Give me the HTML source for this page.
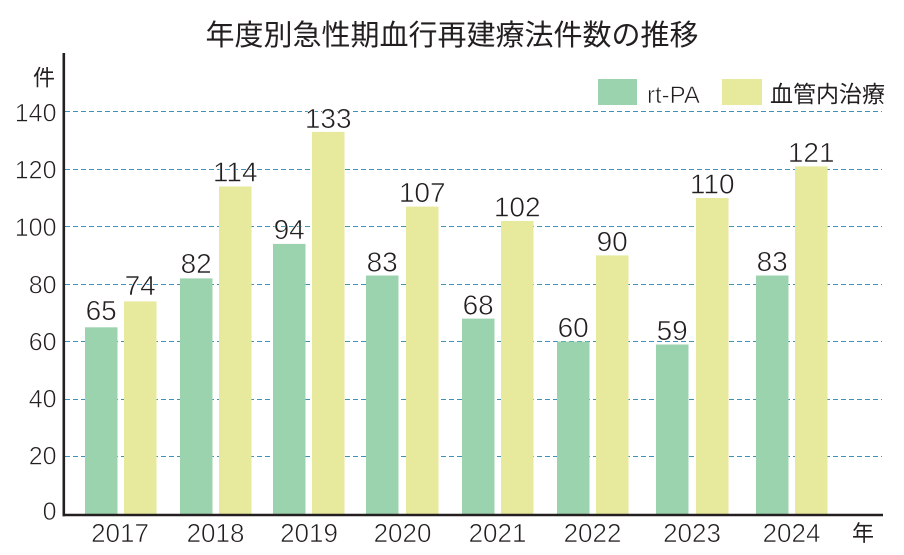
<!DOCTYPE html>
<html>
<head>
<meta charset="utf-8">
<style>
  html,body{margin:0;padding:0;background:#fff;}
  body{width:904px;height:555px;overflow:hidden;}
  svg{display:block;}
  .num{font-family:"Liberation Sans","Noto Sans CJK JP",sans-serif;fill:#231f20;stroke:#ffffff;stroke-width:0.6px;}
  .jp{font-family:"Liberation Sans","Noto Sans CJK JP",sans-serif;fill:#231f20;}
</style>
</head>
<body>
<svg width="904" height="555" viewBox="0 0 904 555" xmlns="http://www.w3.org/2000/svg">
  <rect x="0" y="0" width="904" height="555" fill="#ffffff"/>

  <!-- Title -->
  <text class="jp" x="452" y="45" font-size="29" text-anchor="middle">年度別急性期血行再建療法件数の推移</text>

  <!-- gridlines -->
  <g stroke="#3f92b6" stroke-width="1" stroke-dasharray="5,3" fill="none">
    <line x1="65" y1="111.5" x2="882" y2="111.5"/>
    <line x1="65" y1="169.5" x2="882" y2="169.5"/>
    <line x1="65" y1="226.5" x2="882" y2="226.5"/>
    <line x1="65" y1="284.5" x2="882" y2="284.5"/>
    <line x1="65" y1="341.5" x2="882" y2="341.5"/>
    <line x1="65" y1="399.5" x2="882" y2="399.5"/>
    <line x1="65" y1="456.5" x2="882" y2="456.5"/>
  </g>

  <!-- rt-PA bars (green) -->
  <g fill="#9cd3af">
    <rect x="85"  y="327.3" width="32.5" height="186.7"/>
    <rect x="180" y="278.4" width="32.5" height="235.6"/>
    <rect x="273" y="243.9" width="32.5" height="270.1"/>
    <rect x="366" y="275.5" width="32.5" height="238.5"/>
    <rect x="462" y="318.6" width="32.5" height="195.4"/>
    <rect x="557" y="341.6" width="32.5" height="172.4"/>
    <rect x="656" y="344.5" width="32.5" height="169.5"/>
    <rect x="756" y="275.5" width="32.5" height="238.5"/>
  </g>

  <!-- vascular bars (yellow) -->
  <g fill="#e7ea9c">
    <rect x="124" y="301.4" width="32.5" height="212.6"/>
    <rect x="219" y="186.5" width="32.5" height="327.5"/>
    <rect x="312" y="131.9" width="32.5" height="382.1"/>
    <rect x="406" y="206.6" width="32.5" height="307.4"/>
    <rect x="501" y="221.0" width="32.5" height="293.0"/>
    <rect x="596" y="255.4" width="32.5" height="258.6"/>
    <rect x="696" y="198.0" width="32.5" height="316.0"/>
    <rect x="795" y="166.4" width="32.5" height="347.6"/>
  </g>

  <!-- value labels -->
  <g class="num" font-size="28" text-anchor="middle">
    <text x="101.2" y="320">65</text>
    <text x="140.2" y="295">74</text>
    <text x="196.2" y="273">82</text>
    <text x="235.2" y="181.5">114</text>
    <text x="289.2" y="238.9">94</text>
    <text x="328.2" y="127.9">133</text>
    <text x="382.2" y="271.5">83</text>
    <text x="422.2" y="202">107</text>
    <text x="478.2" y="314.6">68</text>
    <text x="517.2" y="216.5">102</text>
    <text x="573.2" y="337.1">60</text>
    <text x="612.2" y="251">90</text>
    <text x="672.2" y="340">59</text>
    <text x="712.2" y="193.5">110</text>
    <text x="772.2" y="271">83</text>
    <text x="811.2" y="162">121</text>
  </g>

  <!-- axes -->
  <line x1="63.8" y1="53" x2="63.8" y2="516.2" stroke="#231f20" stroke-width="2.6"/>
  <line x1="62.5" y1="515" x2="883" y2="515" stroke="#231f20" stroke-width="2.6"/>

  <!-- y tick labels -->
  <g class="num" font-size="25" text-anchor="end">
    <text x="56.5" y="121.5">140</text>
    <text x="56.5" y="178.5">120</text>
    <text x="56.5" y="236">100</text>
    <text x="56.5" y="293.5">80</text>
    <text x="56.5" y="350.5">60</text>
    <text x="56.5" y="407.5">40</text>
    <text x="56.5" y="464.5">20</text>
    <text x="56.5" y="520">0</text>
  </g>
  <text class="jp" x="33" y="85.5" font-size="22">件</text>

  <!-- x labels -->
  <g class="num" font-size="26" text-anchor="middle">
    <text x="120" y="542">2017</text>
    <text x="215.5" y="542">2018</text>
    <text x="309" y="542">2019</text>
    <text x="402.5" y="542">2020</text>
    <text x="497.5" y="542">2021</text>
    <text x="592.5" y="542">2022</text>
    <text x="692" y="542">2023</text>
    <text x="791.5" y="542">2024</text>
  </g>
  <text class="jp" x="852" y="541" font-size="22">年</text>

  <!-- legend -->
  <rect x="598" y="79" width="39" height="26" fill="#9cd3af"/>
  <text class="num" x="647" y="103" font-size="24">rt-PA</text>
  <rect x="722" y="79" width="40" height="26" fill="#e7ea9c"/>
  <text class="jp" x="770" y="102" font-size="23">血管内治療</text>
</svg>
</body>
</html>
